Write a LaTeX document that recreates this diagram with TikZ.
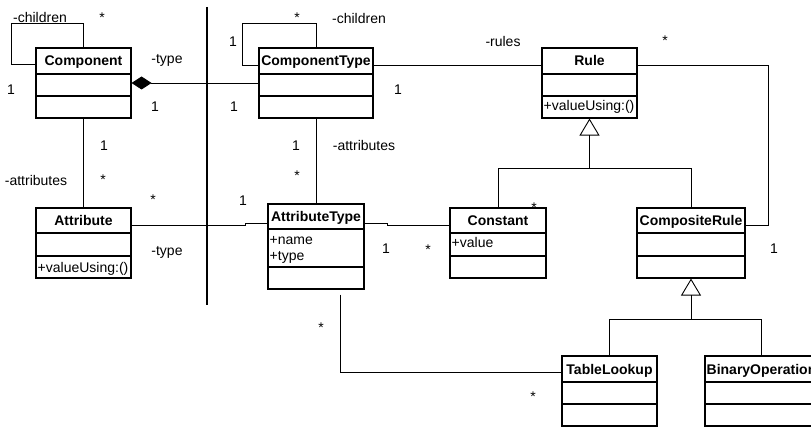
\documentclass[tikz,border=0pt]{standalone}
\usepackage{fontspec}
\setmainfont{Liberation Sans}
\usetikzlibrary{fit,arrows.meta,calc}
\newcommand{\umlclass}[8]{%
  \node[classbox, fit={(#2,#3) (#4,#7)}] (#1) {};
  \draw[classline] (#2,#5) -- (#4,#5) (#2,#6) -- (#4,#6);
  \node[titletext] (#1-title) at ({(#2+#4)/2},{(#3+#5)/2+5}) {#8};
}
\begin{document}
\begin{tikzpicture}[x=1pt,y=-1pt,
  every node/.style={font=\fontsize{14}{16}\selectfont},
  classbox/.style={draw, line width=1.1pt, inner sep=0pt},
  classline/.style={line width=1.1pt},
  titletext/.style={anchor=base, inner sep=0pt, font=\fontsize{14}{16}\selectfont\bfseries},
  member/.style={anchor=base west, inner sep=0pt},
  lbl/.style={anchor=base, inner sep=0pt},
  conn/.style={line width=0.9pt},
  gen/.style={conn, -{Triangle[open, length=17pt, width=20pt]}},
  comp/.style={conn, {Diamond[length=20pt, width=13pt]}-}]
\useasboundingbox (0,0) rectangle (811,427);
\clip (0,0) rectangle (811,427);

% classes
\umlclass{Component}{36}{48}{131}{74}{96}{118}{Component}
\umlclass{ComponentType}{259}{48}{373}{74}{96}{118}{ComponentType}
\umlclass{Rule}{542}{48}{637}{74}{96}{118}{Rule}
\umlclass{Attribute}{36}{208}{131}{233}{256}{278}{Attribute}
\umlclass{AttributeType}{268}{204}{364}{229}{267}{289}{AttributeType}
\umlclass{Constant}{450}{208}{546}{233}{256}{278}{Constant}
\umlclass{CompositeRule}{637}{208}{745}{233}{256}{278}{CompositeRule}
\umlclass{TableLookup}{562}{356}{657}{382}{404}{426}{TableLookup}
\umlclass{BinaryOperation}{705}{356}{818}{382}{404}{426}{BinaryOperation}

% members
\node[member] (rule-op) at (543.5,111) {+valueUsing:()};
\node[member] (attr-op) at (37.5,273) {+valueUsing:()};
\node[member] (at-name) at (269.5,245) {+name};
\node[member] (at-type) at (269.5,261) {+type};
\node[member] (const-val) at (451.5,248) {+value};

% separator
\coordinate (sepTop) at (207,7);
\coordinate (sepBot) at (207,305);
\draw[line width=2.5pt] (sepTop) -- (sepBot);

% self loops
\draw[conn] ([yshift=-17pt]Component.north west) -- ++(-24,0) |- ($(Component.north)+(0,-24)$) -- (Component.north);
\draw[conn] ([yshift=-18pt]ComponentType.north west) -- ++(-16,0) |- ($(ComponentType.north)+(0,-24)$) -- (ComponentType.north);

% associations
\draw[comp] (Component.east) -- (ComponentType.west);
\draw[conn] ([yshift=-18pt]ComponentType.north east) -- ([yshift=-18pt]Rule.north west);
\draw[conn] ([yshift=-18pt]Rule.north east) -- ++(131,0) |- ([yshift=-18pt]CompositeRule.north east);
\draw[conn] (ComponentType.south) -- (AttributeType.north);
\draw[conn] (Component.south) -- (Attribute.north);
\draw[conn] ([yshift=-18pt]Attribute.north east) -- ++(114,0) |- ([yshift=-20pt]AttributeType.north west);
\draw[conn] ([yshift=-20pt]AttributeType.north east) -- ++(23,0) |- ([yshift=-18pt]Constant.north west);
\draw[conn] ([xshift=24pt,yshift=-5pt]AttributeType.south) |- ([yshift=-17pt]TableLookup.north west);

% generalizations
\coordinate (g1) at ($(Rule.south)+(0,50)$);
\draw[conn] (Constant.north) |- (g1) -| (CompositeRule.north);
\draw[gen] (g1) -- (Rule.south);
\coordinate (g2) at ($(CompositeRule.south)+(0,41)$);
\draw[conn] (TableLookup.north) |- (g2) -| (BinaryOperation.north);
\draw[gen] (g2) -- (CompositeRule.south);

% labels
\node[lbl] (l1) at (40,23) {-children};
\node[lbl] (l2) at (102,23) {*};
\node[lbl] (l3) at (11,95) {1};
\node[lbl] (l4) at (167,64) {-type};
\node[lbl] (l5) at (155,112) {1};
\node[lbl] (l6) at (104,151) {1};
\node[lbl] (l7) at (36,186) {-attributes};
\node[lbl] (l8) at (103,185) {*};
\node[lbl] (l9) at (153,205) {*};
\node[lbl] (l10) at (233,47) {1};
\node[lbl] (l11) at (234,112) {1};
\node[lbl] (l12) at (243,206) {1};
\node[lbl] (l13) at (167,256) {-type};
\node[lbl] (l14) at (297,23) {*};
\node[lbl] (l15) at (359,24) {-children};
\node[lbl] (l16) at (398,95) {1};
\node[lbl] (l17) at (503,47) {-rules};
\node[lbl] (l18) at (665,46) {*};
\node[lbl] (l19) at (296,151) {1};
\node[lbl] (l20) at (364,151) {-attributes};
\node[lbl] (l21) at (297,181) {*};
\node[lbl] (l22) at (386,254) {1};
\node[lbl] (l23) at (428,255) {*};
\node[lbl] (l24) at (534,213) {*};
\node[lbl] (l25) at (774,254) {1};
\node[lbl] (l26) at (321,333) {*};
\node[lbl] (l27) at (533,402) {*};
\end{tikzpicture}
\end{document}
